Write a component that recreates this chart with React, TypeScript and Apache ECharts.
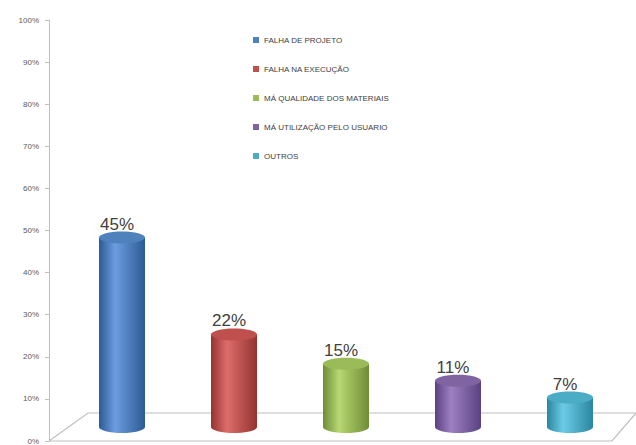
import React, { useEffect, useRef } from "react";
import * as echarts from "echarts";

const categories = [
  "FALHA DE PROJETO",
  "FALHA NA EXECUÇÃO",
  "MÁ QUALIDADE DOS MATERIAIS",
  "MÁ UTILIZAÇÃO PELO USUARIO",
  "OUTROS",
];
const values = [45, 22, 15, 11, 7];
const colors = ["#4f81bd", "#c0504d", "#9bbb59", "#8064a2", "#4bacc6"];
const darkColors = ["#2c5a94", "#933330", "#6f8c35", "#5a4180", "#2a86a0"];
const lightColors = ["#6d9de0", "#de6d6a", "#b7d874", "#9d80c2", "#6ccbe6"];
const yTicks = [0, 10, 20, 30, 40, 50, 60, 70, 80, 90, 100];

export default function App() {
  const ref = useRef<HTMLDivElement>(null);
  useEffect(() => {
    if (!ref.current) return;
    const chart = echarts.init(ref.current, undefined, { renderer: "svg" });
    const series = categories.map((name, i) => ({
      name,
      type: "custom",
      z: 5,
      itemStyle: { color: colors[i] },
      data: [[i, values[i]]],
      renderItem: (params: any, api: any) => {
        const idx = api.value(0);
        const v = api.value(1);
        const cx = api.coord([idx, 0])[0];
        const depth = 14;
        const y0 = api.coord([idx, 0])[1] - depth;
        const y1 = api.coord([idx, v])[1] - depth;
        const rx = 23;
        const ry = 6;
        const grad = new echarts.graphic.LinearGradient(0, 0, 1, 0, [
          { offset: 0, color: darkColors[i] },
          { offset: 0.35, color: lightColors[i] },
          { offset: 1, color: darkColors[i] },
        ]);
        return {
          type: "group",
          children: [
            {
              type: "ellipse",
              shape: { cx, cy: y0, rx, ry },
              style: { fill: grad },
            },
            {
              type: "rect",
              shape: { x: cx - rx, y: y1, width: rx * 2, height: y0 - y1 },
              style: { fill: grad },
            },
            {
              type: "ellipse",
              shape: { cx, cy: y1, rx, ry },
              style: { fill: colors[i] },
            },
            {
              type: "text",
              style: {
                text: v + "%",
                x: cx - 5,
                y: y1 - ry + 1,
                align: "center",
                verticalAlign: "bottom",
                fontSize: 17,
                fontFamily: "Liberation Sans, Arial, sans-serif",
                fill: "#404040",
              },
            },
          ],
        };
      },
    }));
    chart.setOption({
      animation: false,
      backgroundColor: "#ffffff",
      grid: { left: 66, right: 10, top: 20, bottom: 4 },
      legend: {
        orient: "vertical",
        left: 248,
        top: 31,
        itemWidth: 6,
        itemHeight: 6,
        itemGap: 21,
        icon: "rect",
        data: categories,
        textStyle: {
          fontSize: 8,
          color: "#404040",
          fontFamily: "Liberation Sans, Arial, sans-serif",
        },
      },
      xAxis: {
        type: "category",
        data: categories,
        show: false,
      },
      yAxis: {
        type: "value",
        min: 0,
        max: 100,
        interval: 10,
        offset: 17,
        axisLine: { show: true, lineStyle: { color: "#bfbfbf" } },
        axisTick: { show: true, length: 4, lineStyle: { color: "#bfbfbf" } },
        splitLine: { show: false },
        axisLabel: {
          formatter: (val: number) => (yTicks.includes(val) ? val + "%" : ""),
          fontSize: 8,
          color: "#595959",
          margin: 10,
          fontFamily: "Liberation Sans, Arial, sans-serif",
        },
      },
      graphic: [
        {
          type: "polyline",
          z: 0,
          shape: { points: [[49, 441], [88, 413], [636, 413]] },
          style: { stroke: "#bfbfbf", lineWidth: 1.2, fill: "none" },
        },
        {
          type: "polyline",
          z: 0,
          shape: { points: [[49, 441], [612, 441], [636, 413]] },
          style: { stroke: "#bfbfbf", lineWidth: 1.2, fill: "none" },
        },
      ],
      series,
    });
    return () => chart.dispose();
  }, []);
  return <div ref={ref} style={{ width: 636, height: 445 }} />;
}

const _style = document.createElement("style");
_style.textContent = "body{margin:0}";
document.head.appendChild(_style);
